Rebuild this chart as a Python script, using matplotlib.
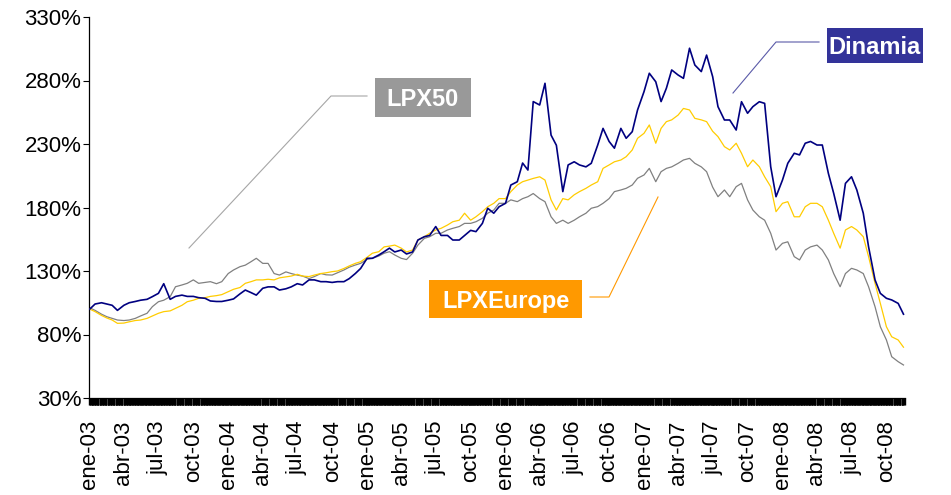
import matplotlib
matplotlib.use('Agg')
import matplotlib.pyplot as plt
import matplotlib.dates as mdates
from matplotlib.lines import Line2D
from matplotlib.patches import Rectangle
import pandas as pd

plt.rcParams['font.family'] = ['Liberation Sans', 'DejaVu Sans']

# ---------------- data (semi-monthly readings, % of base) ----------------
dates = pd.date_range('2003-01-01', periods=142, freq='SMS')

dinamia = [
    100, 104, 105, 104, 103, 99, 103, 105, 106, 107, 107.7, 109.8, 112.4, 120, 107.7, 110,
    111, 110, 110, 109, 108.5, 106.4, 106, 106, 107, 108, 112, 115, 113, 111, 116.4, 117.5,
    117.5, 115, 116, 117.5, 120,
    119, 123, 123, 121.6, 121.6, 121, 121.6, 121.6, 124, 128, 132, 140, 140, 142.6, 145.2,
    148, 145, 146.5, 143.4, 145, 154.4, 157, 158, 165, 158, 158, 154.4, 154.4, 158, 162,
    161, 167.5, 179.4, 175.5, 180.6,
    183.3, 197.7, 200.3, 215, 209.5, 263.4, 260.7, 277.8, 237, 229, 192.5, 213.5, 216, 213.5,
    212, 214.8, 229.2, 242.3, 232, 226.7, 242.3, 234.5, 239.7, 256.8, 271.2, 285.7, 279,
    263.4, 273.9, 288.3, 284.3, 281.7, 305.4, 292.2, 287, 300, 283,
    259.4, 248.9, 248.9, 241, 263.3, 254.2, 259.4, 263.3, 262, 212.1, 188.5, 201.6, 214.8,
    222.7, 221.4, 230.6, 232, 229.2, 229.2, 206.9, 191.2, 170, 199, 204.2, 193.8, 175.5,
    149, 123, 112.4, 108.5, 107.2, 104.5, 96,
]

lpx_europe = [
    100, 98, 95, 93, 91.4, 88.8, 89, 90, 91, 91.4, 92.7, 94.6, 96.7, 98, 98.6, 100.6, 103,
    105.8, 107, 108.5, 109, 110, 110.6, 111.4, 113.7, 115.6, 117, 120.3, 121.6, 123, 123,
    123.5, 123, 124.6, 125.4, 126, 127.4,
    126, 125.6, 126.8, 128, 128.6, 129.5, 130, 132, 134, 136, 137.3, 140.8, 144, 145.2, 149,
    149.6, 150.4, 148, 145, 146.5, 154.4, 157, 159.7, 162.3, 163.6, 166.2, 168.8, 170, 175.5,
    170, 172.7, 176.7, 180.6, 183.3, 187,
    187, 192.5, 197.7, 200.3, 201.6, 202.9, 204.2, 201.6, 186, 178, 187, 186, 190, 192.5,
    195.1, 197.7, 200.3, 210.8, 213.5, 216, 217.4, 220, 225.3, 234.5, 238.4, 245, 230.6,
    242.3, 247.6, 249, 252.8, 258, 256.8, 250.2, 249, 247.6, 240,
    235.8, 227.9, 225.3, 230.6, 222.7, 212.1, 217.4, 212.1, 204.2, 196.4, 176.7, 183.3,
    184.6, 172.7, 172.7, 180.6, 183.3, 183.3, 180.6, 170, 159.7, 148, 162.3, 165, 162.3,
    157, 141.3, 120.3, 104.5, 86.1, 78.2, 75.7, 70,
]

lpx50 = [
    101, 99, 96, 94, 92.7, 91.4, 91, 91.4, 92.7, 94.6, 96.7, 101.9, 105.8, 107, 109.8, 117.6,
    119, 120.3, 123, 120.3, 121, 121.6, 120, 121.6, 128, 130.8, 133.4, 134.6, 137.3, 140,
    136, 136, 128, 126.8, 129.3, 128, 126.8,
    126, 124, 125.6, 128, 127, 126.8, 128.6, 130.8, 133, 134.7, 136, 139.2, 140, 141.8, 144,
    145.2, 142.6, 140, 139, 144, 150.4, 155.7, 157, 159.7, 159.7, 162.3, 163.6, 165, 167.5,
    167.5, 168.8, 171.5, 175.5, 178, 183.3,
    183.3, 186, 184.6, 187, 188.5, 191, 187, 184.6, 172.7, 167.5, 170, 167.5, 170, 172.7,
    175.5, 179.4, 180.7, 183.3, 187, 192.5, 193.8, 195.1, 197.7, 203, 205.6, 210.8, 200.3,
    208.2, 210.8, 212, 214.8, 217.4, 218.7, 214.8, 212, 208.2, 196,
    188.5, 193.8, 188.5, 196.4, 199, 186, 178, 172.7, 170, 159.7, 146.5, 151.8, 153, 141.3,
    138.7, 146.5, 149, 150.4, 146.5, 138.7, 128, 117.6, 128, 132.1, 130.8, 128, 117.6,
    101.9, 86.1, 75.7, 62.5, 58.6, 56,
]

tick_dates = pd.date_range('2003-01-01', '2008-10-01', freq='QS')
tick_labels = ['ene-03', 'abr-03', 'jul-03', 'oct-03',
               'ene-04', 'abr-04', 'jul-04', 'oct-04',
               'ene-05', 'abr-05', 'jul-05', 'oct-05',
               'ene-06', 'abr-06', 'jul-06', 'oct-06',
               'ene-07', 'abr-07', 'jul-07', 'oct-07',
               'ene-08', 'abr-08', 'jul-08', 'oct-08']
y_ticks = [30, 80, 130, 180, 230, 280, 330]
y_labels = [f'{v}%' for v in y_ticks]

series_names = ['LPX50', 'LPXEurope', 'Dinamia']

# ---------------- figure ----------------
W, H = 951, 495
fig = plt.figure(figsize=(W / 100, H / 100), dpi=100)
ax = fig.add_axes([89 / W, 97 / H, 816 / W, 381 / H])

ax.plot(dates, lpx50, color='#808080', lw=0.9, zorder=2)
ax.plot(dates, lpx_europe, color='#FFCC00', lw=0.9, zorder=3)
ax.plot(dates, dinamia, color='#000080', lw=1.2, zorder=4)

ax.set_ylim(30, 330)
ax.set_xlim(pd.Timestamp('2002-12-30'), pd.Timestamp('2008-11-19'))

ax.set_yticks(y_ticks)
ax.set_yticklabels(y_labels, fontsize=16)
ax.set_xticks(mdates.date2num(tick_dates))
ax.set_xticklabels(tick_labels, fontsize=16, rotation=90)
bdays = pd.bdate_range('2002-12-31', '2008-11-18')
ax.set_xticks(mdates.date2num(bdays), minor=True)

ax.tick_params(axis='y', direction='out', length=4.5, width=0.8, pad=1, colors='black')
ax.tick_params(axis='x', which='major', direction='out', length=5, width=0.9, pad=11)
ax.tick_params(axis='x', which='minor', direction='out', length=5, width=1.0, color='black')

for s in ['top', 'right']:
    ax.spines[s].set_visible(False)
for s in ['left', 'bottom']:
    ax.spines[s].set_linewidth(0.9)
    ax.spines[s].set_color('black')


def fpt(px, py):
    return (px / W, 1 - py / H)


def leader(points, color):
    xs = [p[0] / W for p in points]
    ys = [1 - p[1] / H for p in points]
    fig.add_artist(Line2D(xs, ys, transform=fig.transFigure, color=color, lw=0.8))


def label_box(x0, y0, x1, y1, fc, text):
    fig.add_artist(Rectangle(fpt(x0, y1), (x1 - x0) / W, (y1 - y0) / H,
                             transform=fig.transFigure, facecolor=fc, edgecolor='none'))
    cx, cy = fpt((x0 + x1) / 2, (y0 + y1) / 2)
    fig.text(cx, cy, text, color='white', fontsize=17, fontweight='bold',
             ha='center', va='center_baseline')


leader([(189, 248), (331, 96), (367, 96)], '#A6A6A6')
leader([(590, 297), (609, 297), (658, 197)], '#FF9900')
leader([(733, 93), (776, 42), (819, 42)], '#5A5AA8')

label_box(375, 78, 471, 117, '#999999', series_names[0])
label_box(429, 280, 582, 318, '#FF9900', series_names[1])
label_box(827, 28, 923, 63, '#333399', series_names[2])

fig.savefig('out.png', dpi=100)
